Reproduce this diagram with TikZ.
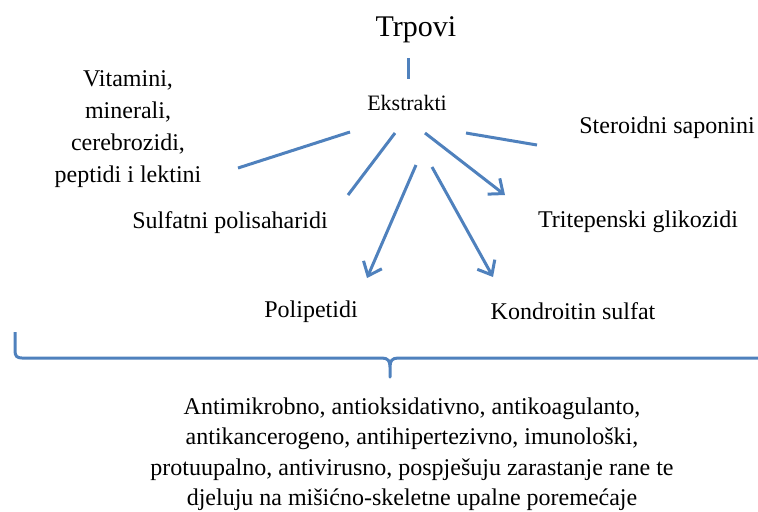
\documentclass[tikz,border=0pt]{standalone}
\usepackage{fontspec}
\setmainfont{Liberation Serif}
\usepackage{tikz}
\usetikzlibrary{arrows.meta}
\definecolor{bluec}{RGB}{79,129,189}

\begin{document}
\begin{tikzpicture}[x=0.5pt, y=-0.5pt,
  txt/.style={font=\fontsize{12}{14.5}\selectfont, inner sep=0pt},
  link/.style={bluec, line width=1.5pt},
  arr/.style={link, -{Straight Barb[length=6pt, width=10pt]}}]

\useasboundingbox (0,0) rectangle (758,511);

% positions are pixels of the source, y runs downwards
\node[txt, font=\fontsize{15}{18}\selectfont, anchor=base] (trpovi) at (416,36) {Trpovi};
\node[txt, font=\fontsize{11}{13}\selectfont, anchor=base] (ekstrakti) at (407,110) {Ekstrakti};
\node[txt, font=\fontsize{12}{16}\selectfont, align=center, anchor=north] (vitamini) at (128,70)
  {Vitamini,\\ minerali,\\ cerebrozidi,\\ peptidi i lektini};
\node[txt, anchor=base] (steroidni) at (667,133) {Steroidni saponini};
\node[txt, anchor=base] (sulfatni) at (230,228) {Sulfatni polisaharidi};
\node[txt, anchor=base] (tritepenski) at (638,227) {Tritepenski glikozidi};
\node[txt, anchor=base] (polipetidi) at (311,317) {Polipetidi};
\node[txt, anchor=base] (kondroitin) at (573,319) {Kondroitin sulfat};
\node[txt, font=\fontsize{12}{15.25}\selectfont, align=center, anchor=north] (ucinci) at (412,397)
  {Antimikrobno, antioksidativno, antikoagulanto,\\
   antikancerogeno, antihipertezivno, imunološki,\\
   protuupalno, antivirusno, pospješuju zarastanje rane te\\
   djeluju na mišićno-skeletne upalne poremećaje};

% connectors, end points shifted off the text
\draw[link] ([shift={(-8,22)}]trpovi.base) -- ([shift={(1,-31)}]ekstrakti.base);
\draw[link] ([shift={(-57,22)}]ekstrakti.base) -- ([shift={(110,98)}]vitamini.north);
\draw[link] ([shift={(-12,23)}]ekstrakti.base) -- ([shift={(118,-33)}]sulfatni.base);
\draw[arr] ([shift={(9,55)}]ekstrakti.base) -- ([shift={(56,-39)}]polipetidi.base);
\draw[arr] ([shift={(25,57)}]ekstrakti.base) -- ([shift={(-80,-42)}]kondroitin.base);
\draw[arr] ([shift={(18,23)}]ekstrakti.base) -- ([shift={(-133,-32)}]tritepenski.base);
\draw[link] ([shift={(59,23)}]ekstrakti.base) -- ([shift={(-130,12)}]steroidni.base);

% brace over the bottom text, tip at x=390
\draw[link, line join=round] (15,332) -- (15,351) .. controls (15,356) and (17,358) .. (22,358)
  -- (382,358) .. controls (388,358) and (390,361) .. (390,367) -- (390,377)
  -- (390,367) .. controls (390,361) and (392,358) .. (398,358) -- (758,358);
\end{tikzpicture}
\end{document}
